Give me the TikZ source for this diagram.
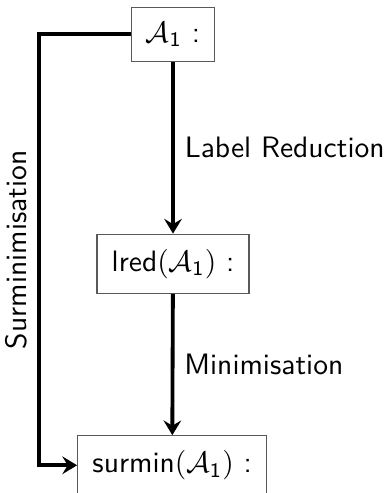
\documentclass[tikz,border=0pt]{standalone}
\usetikzlibrary{arrows.meta}
\renewcommand{\familydefault}{\sfdefault}
\newcommand{\Aone}{\ensuremath{\mathcal{A}_{\mathsf{1}}}}
\tikzset{
  stage/.style={draw=black!65,inner sep=5pt},
  flow/.style={-{Stealth[length=5pt,width=6pt,inset=1.8pt]},line width=1.3pt}
}
\begin{document}
\begin{tikzpicture}
  \useasboundingbox (0,0) rectangle (4.57,5.87);
  \node[stage] (a1) at (2.06,5.46) {\Aone\ :};
  \node[stage] (lred) at (2.06,2.73) {lred$($\Aone$)$ :};
  \node[stage] (surmin) at (2.05,0.33) {surmin$($\Aone$)$ :};
  \coordinate (left) at (0.46,3);
  \draw[flow] (a1) -- node[right] {Label Reduction} (lred);
  \draw[flow] (lred) -- node[right] {Minimisation} (surmin);
  \draw[flow] (a1.west) -- (a1.west -| left)
    -- node[rotate=90,anchor=south] {Surminimisation} (surmin.west -| left)
    -- (surmin.west);
\end{tikzpicture}
\end{document}
